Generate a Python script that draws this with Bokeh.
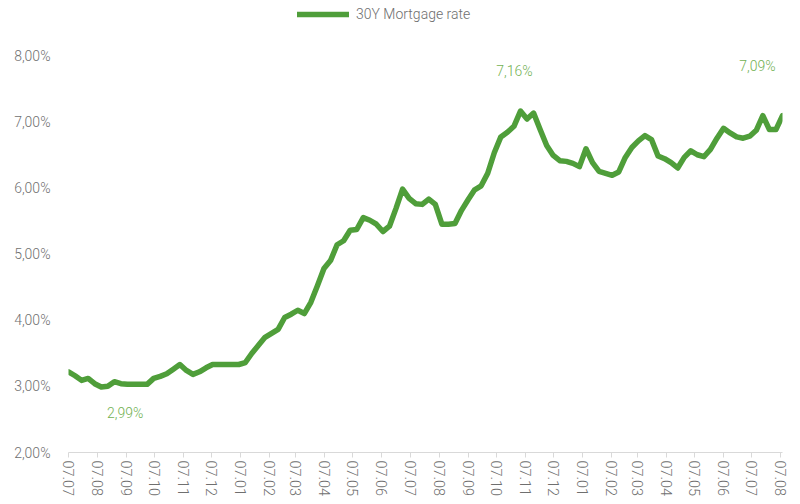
import pandas as pd
from bokeh.plotting import figure
from bokeh.models import (FixedTicker, DatetimeTickFormatter, CustomJSTickFormatter,
                          Legend, LegendItem, Label, Range1d)
from bokeh.embed import file_html
from bokeh.resources import INLINE

# --- data -------------------------------------------------------------
series_name = "30Y Mortgage rate"
start_date = "2021-07-07"
rate = [
    3.22, 3.16, 3.09, 3.12, 3.04, 2.99, 3.00, 3.07, 3.04, 3.03,
    3.03, 3.03, 3.03, 3.12, 3.15, 3.19, 3.26, 3.33, 3.24, 3.18,
    3.22, 3.28, 3.33, 3.33, 3.33, 3.33, 3.33, 3.36, 3.50, 3.62,
    3.74, 3.80, 3.86, 4.04, 4.09, 4.15, 4.10, 4.27, 4.52, 4.78,
    4.90, 5.14, 5.20, 5.36, 5.37, 5.55, 5.51, 5.45, 5.34, 5.42,
    5.69, 5.98, 5.84, 5.76, 5.75, 5.83, 5.75, 5.45, 5.45, 5.46,
    5.66, 5.82, 5.97, 6.03, 6.22, 6.53, 6.77, 6.84, 6.93, 7.16,
    7.04, 7.13, 6.88, 6.64, 6.49, 6.41, 6.40, 6.37, 6.32, 6.59,
    6.38, 6.25, 6.22, 6.19, 6.24, 6.46, 6.61, 6.71, 6.79, 6.73,
    6.48, 6.44, 6.38, 6.30, 6.46, 6.56, 6.50, 6.47, 6.58, 6.75,
    6.90, 6.83, 6.77, 6.75, 6.78, 6.87, 7.09, 6.88, 6.88, 7.09,
]
dates = pd.date_range(start_date, periods=len(rate), freq="7D")
x_ticks = pd.date_range("2021-07-07", "2023-08-07", freq=pd.DateOffset(months=1))
y_ticks = [2, 3, 4, 5, 6, 7, 8]

# --- style ------------------------------------------------------------
FONT = "Roboto Light"
LINE_COLOR = "#4f9e3a"
ANNO_COLOR = "#72b152"
TEXT_COLOR = "#6f6f6f"

FRAME_H = 452          # frame spans from the canvas top to the x axis
AXIS_SPAN = 397        # pixels between the 2% and 8% gridline positions

p = figure(width=800, height=504, x_axis_type="datetime",
           output_backend="svg", toolbar_location=None,
           min_border_left=68, min_border_right=18,
           min_border_top=0, min_border_bottom=52)
p.x_range = Range1d(dates[0], dates[-1])
p.y_range = Range1d(y_ticks[0], y_ticks[-1] + (FRAME_H - AXIS_SPAN) * (y_ticks[-1] - y_ticks[0]) / AXIS_SPAN)
p.outline_line_color = None
p.grid.grid_line_color = None
p.background_fill_color = "white"
p.border_fill_color = "white"

r = p.line(dates, rate, line_color=LINE_COLOR, line_width=5.5,
           line_join="round", line_cap="round")

# y axis
ya = p.yaxis[0]
ya.ticker = FixedTicker(ticks=y_ticks)
ya.formatter = CustomJSTickFormatter(code="return tick.toFixed(2).replace('.', ',') + '%';")
ya.axis_line_color = None
ya.major_tick_line_color = None
ya.minor_tick_line_color = None
ya.major_label_text_font = FONT
ya.major_label_text_font_size = "14px"
ya.major_label_text_color = TEXT_COLOR
ya.major_label_standoff = 12

# x axis
xa = p.xaxis[0]
xa.ticker = FixedTicker(ticks=[t.value // 10**6 for t in x_ticks])
fmt = "%d.%m"
xa.formatter = DatetimeTickFormatter(milliseconds=fmt, seconds=fmt, minsec=fmt, minutes=fmt,
                                     hourmin=fmt, hours=fmt, days=fmt, months=fmt, years=fmt)
xa.axis_line_color = "#d9d9d9"
xa.major_tick_line_color = "#d9d9d9"
xa.major_tick_in = 0
xa.major_tick_out = 5
xa.minor_tick_line_color = None
xa.major_label_orientation = "vertical"
xa.major_label_text_font = FONT
xa.major_label_text_font_size = "14.5px"
xa.major_label_text_color = TEXT_COLOR
xa.major_label_standoff = 3

# legend (inside the top strip of the frame)
legend = Legend(items=[LegendItem(label=series_name, renderers=[r])],
                location=(229, 430), orientation="horizontal",
                border_line_color=None, background_fill_alpha=0,
                padding=0, margin=0, spacing=0,
                glyph_width=52, glyph_height=14, label_standoff=7,
                label_text_font=FONT, label_text_font_size="14px",
                label_text_color=TEXT_COLOR)
p.add_layout(legend)

# annotations (max, min, last)
def fmt_pct(v):
    return f"{v:.2f}".replace(".", ",") + "%"

i_max = rate.index(max(rate))
i_min = rate.index(min(rate))
i_last = len(rate) - 1
for i, dx, dy in [(i_max, -6, 40), (i_min, 24, -26), (i_last, -25, 50)]:
    p.add_layout(Label(x=dates[i], y=rate[i], x_offset=dx, y_offset=dy,
                       text=fmt_pct(rate[i]), text_align="center", text_baseline="middle",
                       text_font=FONT, text_font_size="14px", text_color=ANNO_COLOR))

open("out.html", "w").write(file_html(p, INLINE))
